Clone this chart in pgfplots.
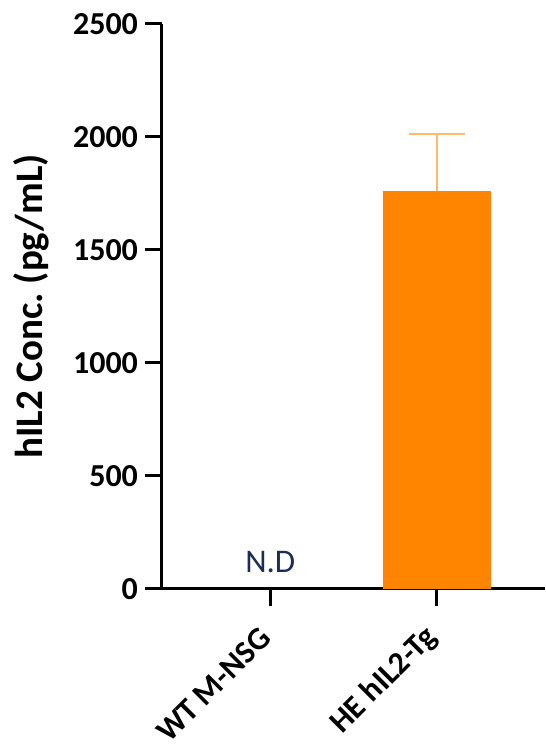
\documentclass[border=0pt]{standalone}
\usepackage{pgfplots}
\pgfplotsset{compat=1.18}
\usepackage{fontspec}
\setmainfont{Carlito}
\definecolor{barorange}{RGB}{255,133,0}
\definecolor{errorange}{RGB}{255,186,112}
\definecolor{ndblue}{RGB}{25,45,85}
\begin{document}
\begin{tikzpicture}
\begin{axis}[
  scale only axis, width=191.5pt, height=282.5pt,
  axis lines=left, axis line style={-, line width=1.5pt},
  xmin=-0.65, xmax=1.65, ymin=0, ymax=2500,
  ytick={0,500,1000,1500,2000,2500},
  xtick={0,1}, xticklabels={WT M-NSG, HE hIL2-Tg},
  tick align=outside, major tick length=8.5pt,
  tick style={line width=1.5pt, black},
  ticklabel style={font=\fontsize{16}{18}\selectfont\bfseries},
  /pgf/number format/assume math mode=true,
  /pgf/number format/1000 sep={},
  x tick label style={rotate=45, anchor=east},
  xticklabel shift=11pt,
  ylabel={hIL2 Conc.\ (pg/mL)},
  ylabel shift=5pt,
  ylabel style={font=\fontsize{19.5}{22}\selectfont\bfseries},
  clip=false,
]
\addplot[ybar, bar width=54pt, fill=barorange, draw=none,
  error bars/.cd, y dir=plus, y explicit,
  error bar style={line width=1pt, errorange},
  error mark options={rotate=90, mark size=14pt, line width=1pt, errorange}]
  coordinates {(1,1760) +- (0,255)};
\node[font=\fontsize{16.5}{18}\selectfont, text=ndblue] at (axis cs:0,118) {N.D};
\end{axis}
\pgfresetboundingbox
\path (-81pt,-79pt) rectangle (191.5pt,294.5pt);
\end{tikzpicture}
\end{document}
